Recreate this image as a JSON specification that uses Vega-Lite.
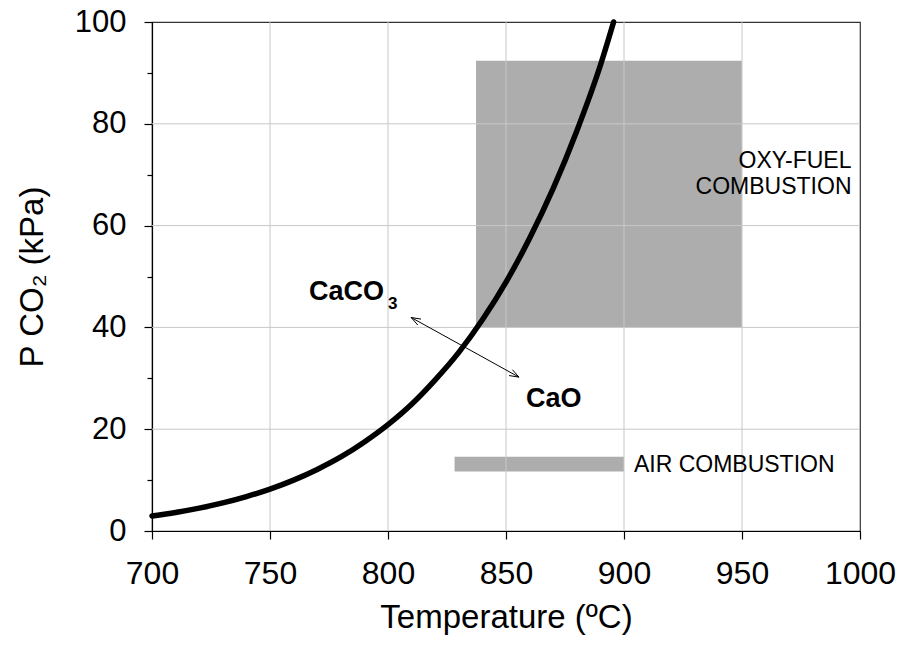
{
  "$schema": "https://vega.github.io/schema/vega-lite/v6.json",
  "width": 708,
  "height": 509,
  "autosize": {"type": "none"},
  "padding": {"left": 152, "top": 22, "right": 43, "bottom": 122},
  "background": "white",
  "config": {
    "font": "Liberation Sans",
    "view": {"stroke": "#333333", "strokeWidth": 1.2}
  },
  "datasets": {
    "zones": [
      {"zone": "oxy", "t1": 837.3, "t2": 950, "p1": 40, "p2": 92.4},
      {"zone": "air", "t1": 828.2, "t2": 900, "p1": 11.7, "p2": 14.6}
    ],
    "vgrid": [{"t": 750}, {"t": 800}, {"t": 850}, {"t": 900}, {"t": 950}],
    "hgrid": [{"p": 20}, {"p": 40}, {"p": 60}, {"p": 80}],
    "curve": [
      {"t": 700, "p": 2.95}, {"t": 710, "p": 3.65}, {"t": 720, "p": 4.5},
      {"t": 730, "p": 5.52}, {"t": 740, "p": 6.76}, {"t": 750, "p": 8.23},
      {"t": 760, "p": 10.0}, {"t": 770, "p": 12.1}, {"t": 780, "p": 14.55},
      {"t": 790, "p": 17.5}, {"t": 800, "p": 20.9}, {"t": 810, "p": 24.9},
      {"t": 820, "p": 29.7}, {"t": 830, "p": 35.1}, {"t": 840, "p": 41.5},
      {"t": 850, "p": 48.9}, {"t": 860, "p": 57.5}, {"t": 870, "p": 67.3},
      {"t": 880, "p": 78.6}, {"t": 890, "p": 91.5}, {"t": 895.6, "p": 100}
    ],
    "arrow": [
      {"a": 809.8, "b": 41.95, "a2": 855.5, "b2": 30.23},
      {"a": 809.8, "b": 41.95, "a2": 814.0, "b2": 41.63},
      {"a": 809.8, "b": 41.95, "a2": 812.6, "b2": 40.47},
      {"a": 855.5, "b": 30.23, "a2": 852.7, "b2": 31.7},
      {"a": 855.5, "b": 30.23, "a2": 851.3, "b2": 30.54}
    ],
    "boldLabels": [
      {"t": 766.5, "p": 45.4, "txt": "CaCO"},
      {"t": 858.5, "p": 24.4, "txt": "CaO"}
    ],
    "subLabels": [
      {"t": 800.0, "p": 43.6, "txt": "3"}
    ],
    "rightLabels": [
      {"t": 996.4, "p": 71.3, "txt": "OXY-FUEL "},
      {"t": 996.4, "p": 66.2, "txt": "COMBUSTION"}
    ],
    "leftLabels": [
      {"t": 904.2, "p": 11.5, "txt": "AIR COMBUSTION"}
    ]
  },
  "layer": [
    {
      "data": {"name": "zones"},
      "mark": {"type": "rect", "color": "#adadad"},
      "encoding": {
        "x": {
          "field": "t1", "type": "quantitative",
          "scale": {"domain": [700, 1000], "nice": false, "zero": false},
          "axis": {
            "values": [700, 750, 800, 850, 900, 950, 1000],
            "format": "d",
            "labelFlush": false,
            "labelOverlap": false,
            "grid": false,
            "domainColor": "black", "domainWidth": 1.2,
            "tickColor": "black", "tickSize": 8, "tickWidth": 1.2,
            "labelFontSize": 32, "labelColor": "black", "labelPadding": 19,
            "labelFont": "Liberation Sans",
            "title": "Temperature (ºC)", "titleFontSize": 33, "titleFontWeight": "normal",
            "titleColor": "black", "titleFont": "Liberation Sans", "titlePadding": 12
          }
        },
        "x2": {"field": "t2"},
        "y": {
          "field": "p1", "type": "quantitative",
          "scale": {"domain": [0, 100], "nice": false},
          "axis": {
            "values": [0, 10, 20, 30, 40, 50, 60, 70, 80, 90, 100],
            "labelExpr": "datum.value % 20 === 0 ? datum.label : ''",
            "tickSize": {"condition": {"test": "datum.value % 20 !== 0", "value": 5}, "value": 8},
            "labelFlush": false,
            "labelOverlap": false,
            "grid": false,
            "domainColor": "black", "domainWidth": 1.2,
            "tickColor": "black", "tickWidth": 1.2,
            "labelFontSize": 31, "labelColor": "black", "labelPadding": 18,
            "labelFont": "Liberation Sans",
            "title": "P CO₂ (kPa)", "titleFontSize": 33, "titleFontWeight": "normal",
            "titleColor": "black", "titleFont": "Liberation Sans", "titlePadding": 25
          }
        },
        "y2": {"field": "p2"}
      }
    },
    {
      "data": {"name": "vgrid"},
      "mark": {"type": "rule", "color": "#c8c8c8", "strokeWidth": 1},
      "encoding": {"x": {"field": "t", "type": "quantitative"}}
    },
    {
      "data": {"name": "hgrid"},
      "mark": {"type": "rule", "color": "#c8c8c8", "strokeWidth": 1},
      "encoding": {"y": {"field": "p", "type": "quantitative"}}
    },
    {
      "data": {"name": "curve"},
      "mark": {"type": "line", "color": "black", "strokeWidth": 5.5, "interpolate": "monotone", "strokeCap": "round"},
      "encoding": {
        "x": {"field": "t", "type": "quantitative"},
        "y": {"field": "p", "type": "quantitative"}
      }
    },
    {
      "data": {"name": "arrow"},
      "mark": {"type": "rule", "color": "black", "strokeWidth": 1},
      "encoding": {
        "x": {"field": "a", "type": "quantitative"},
        "y": {"field": "b", "type": "quantitative"},
        "x2": {"field": "a2"},
        "y2": {"field": "b2"}
      }
    },
    {
      "data": {"name": "boldLabels"},
      "mark": {"type": "text", "baseline": "alphabetic", "align": "left", "color": "black", "font": "Liberation Sans", "fontWeight": "bold", "fontSize": 27},
      "encoding": {
        "x": {"field": "t", "type": "quantitative"},
        "y": {"field": "p", "type": "quantitative"},
        "text": {"field": "txt"}
      }
    },
    {
      "data": {"name": "subLabels"},
      "mark": {"type": "text", "baseline": "alphabetic", "align": "left", "color": "black", "font": "Liberation Sans", "fontWeight": "bold", "fontSize": 17},
      "encoding": {
        "x": {"field": "t", "type": "quantitative"},
        "y": {"field": "p", "type": "quantitative"},
        "text": {"field": "txt"}
      }
    },
    {
      "data": {"name": "rightLabels"},
      "mark": {"type": "text", "baseline": "alphabetic", "align": "right", "color": "black", "font": "Liberation Sans", "fontSize": 23},
      "encoding": {
        "x": {"field": "t", "type": "quantitative"},
        "y": {"field": "p", "type": "quantitative"},
        "text": {"field": "txt"}
      }
    },
    {
      "data": {"name": "leftLabels"},
      "mark": {"type": "text", "baseline": "alphabetic", "align": "left", "color": "black", "font": "Liberation Sans", "fontSize": 23},
      "encoding": {
        "x": {"field": "t", "type": "quantitative"},
        "y": {"field": "p", "type": "quantitative"},
        "text": {"field": "txt"}
      }
    }
  ]
}
